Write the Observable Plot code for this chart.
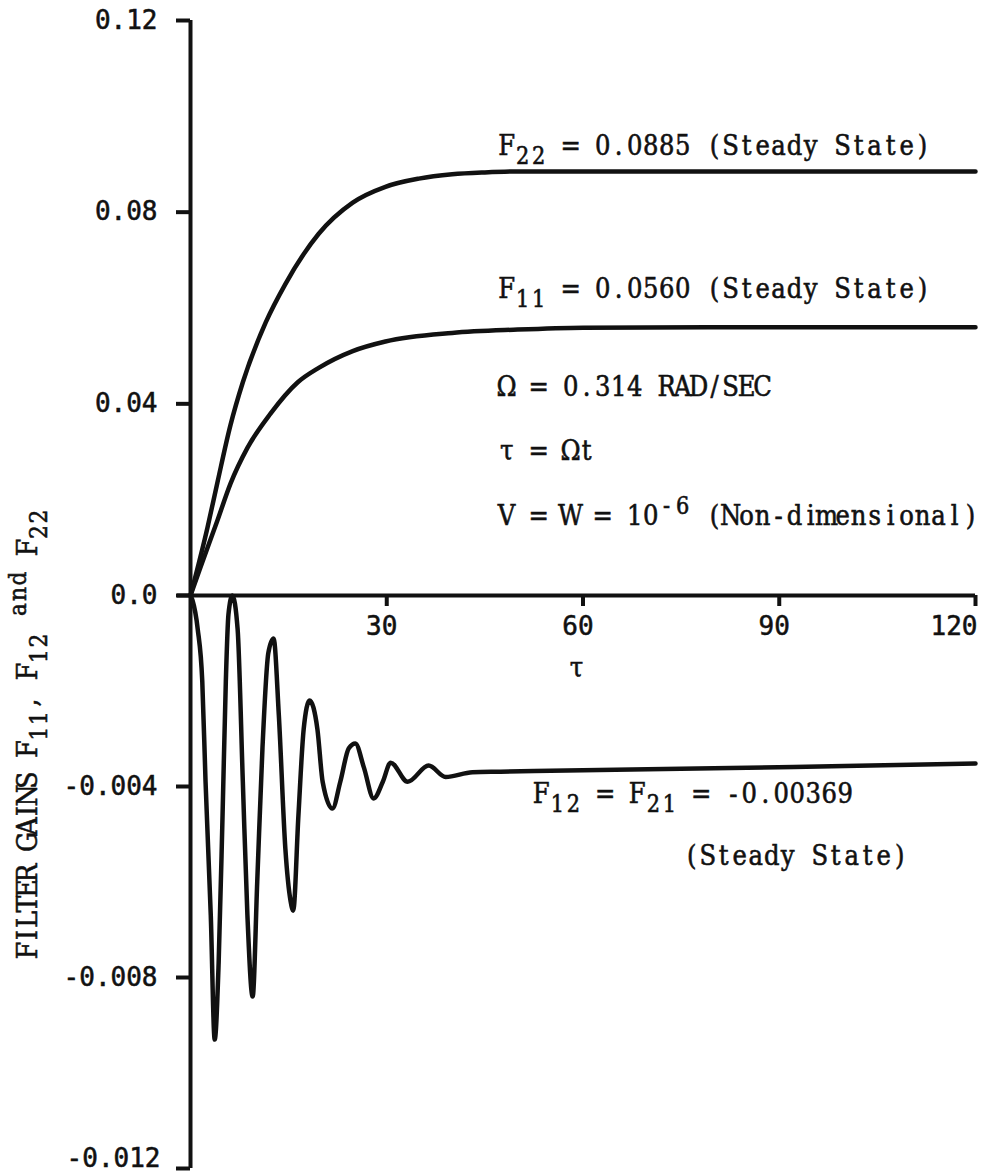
<!DOCTYPE html>
<html>
<head>
<meta charset="utf-8">
<script src="https://cdn.jsdelivr.net/npm/d3@7"></script>
<script src="https://cdn.jsdelivr.net/npm/@observablehq/plot@0.6"></script>
<style>
  html, body { margin: 0; padding: 0; background: #fff; }
  #chart svg { display: block; }
  #chart text { stroke: #111; stroke-width: 0.55px; white-space: pre; }
</style>
</head>
<body>
<div id="chart"></div>
<script>
// Non-dimensional time τ = Ωt and the filter gains.
const tau22 = [0, 2.6, 4.1, 6.1, 8.0, 11.5, 14.5, 19.6, 24.8, 29.8, 34.9, 40, 45, 50, 60, 80, 100, 120];
const f22   = [0, 0.0142, 0.0235, 0.0355, 0.0445, 0.057, 0.065, 0.0755, 0.082, 0.0853, 0.087, 0.0879, 0.0883, 0.0885, 0.0885, 0.0885, 0.0885, 0.0885];

const tau11 = [0, 1.5, 4.1, 6.1, 8.7, 12.2, 16.4, 19.6, 24.8, 29.8, 40, 50, 60, 80, 100, 120];
const f11   = [0, 0.0058, 0.0156, 0.0233, 0.0308, 0.0379, 0.0445, 0.0475, 0.051, 0.053, 0.0548, 0.0555, 0.0559, 0.056, 0.056, 0.056];

const tau12 = [0, 0.3, 1.1, 1.8, 2.3, 3.1, 3.7, 4.3, 4.9, 5.4, 5.8, 6.4, 7.2, 8.0, 8.7, 9.5,
               10.2, 11.0, 11.9, 12.7, 13.5, 14.5, 15.3, 15.7, 16.5, 17.3, 18.2, 19.4, 20.2, 21.7,
               22.9, 24.2, 25.2, 26.5, 28.0, 29.4, 30.6, 33.2, 36.4, 39.0, 43.1, 47.4, 60, 80, 100, 120];
const f12   = [0, -0.0001, -0.0007, -0.0018, -0.0039, -0.0067, -0.0093, -0.0077, -0.0046, -0.0018, -0.0004, 0, -0.0007, -0.0039, -0.0067, -0.0084,
               -0.006, -0.0032, -0.0012, -0.0009, -0.0025, -0.0053, -0.0064, -0.0066, -0.0046, -0.0028, -0.0022, -0.0028, -0.0039, -0.00446,
               -0.0039, -0.0032, -0.0031, -0.0036, -0.00425, -0.0039, -0.0035, -0.0039, -0.00356, -0.0038, -0.0037, -0.00369, -0.00366, -0.00362, -0.00357, -0.00352];

// Axis ticks and their printed labels
const xTicks = [30, 60, 90, 120];
const xTickLabels = ["30", "60", "90", "120"];
const yTicks = [0.12, 0.08, 0.04, 0, -0.004, -0.008, -0.012];
const yTickLabels = ["0.12", "0.08", "0.04", "0.0", "-0.004", "-0.008", "-0.012"];

// Steady-state values
const ss22 = 0.0885, ss11 = 0.0560, ss12 = -0.00369;

const series = (T, V) => T.map((t, i) => ({t, v: V[i]}));

const INK = "#111";
const serif = "DejaVu Serif Condensed, DejaVu Serif, serif";
const mono = "DejaVu Sans Mono, monospace";
const NOTE_SIZE = 27, TITLE_SIZE = 28;
// character pitch of the typed texts, by font size
const PITCH = {[NOTE_SIZE]: 16, [TITLE_SIZE]: 15.5};

const note = (text, options) => Plot.text([text], {
  textAnchor: "start", lineAnchor: "bottom", text: d => d,
  fontFamily: serif, fontSize: NOTE_SIZE, fill: INK, ...options
});

const chart = Plot.plot({
  width: 985,
  height: 1175,
  marginLeft: 190,
  marginRight: 10,
  marginTop: 20,
  marginBottom: 7,
  style: {background: "#fff", color: INK, fontFamily: serif},
  // The y scale is piecewise: the negative gains are drawn ten times larger.
  x: {type: "linear", domain: [0, 120], range: [190, 975], axis: null},
  y: {type: "linear", domain: [-0.012, 0, 0.12], range: [1168, 595, 20], axis: null},
  marks: [
    // y axis line and its ticks
    Plot.ruleX([0], {y1: -0.012, y2: 0.12, stroke: INK, strokeWidth: 4}),
    Plot.ruleY(yTicks, {x1: 0, x2: 0, insetLeft: -14, stroke: INK, strokeWidth: 4}),
    // x axis at zero and its ticks
    Plot.ruleY([0], {x1: 0, x2: 120, insetLeft: -13, stroke: INK, strokeWidth: 4}),
    Plot.ruleX(xTicks, {y1: 0, y2: 0, insetBottom: -11, stroke: INK, strokeWidth: 4}),

    // tick labels
    Plot.text(yTicks.slice(0, 6), {y: d => d, frameAnchor: "left", dx: -33, textAnchor: "end",
      text: (d, i) => yTickLabels[i], fontFamily: mono, fontSize: 26, fill: INK}),
    Plot.text(yTicks.slice(6), {y: d => d, frameAnchor: "left", dx: -30, dy: -10, textAnchor: "end",
      text: (d, i) => yTickLabels[6 + i], fontFamily: mono, fontSize: 26, fill: INK}),
    Plot.text(xTicks.slice(0, 3), {x: d => d, y: 0, dx: -5, dy: 31,
      text: (d, i) => xTickLabels[i], fontFamily: mono, fontSize: 26, fill: INK}),
    Plot.text(xTicks.slice(3), {x: d => d, y: 0, dx: 2, dy: 31, textAnchor: "end",
      text: (d, i) => xTickLabels[3 + i], fontFamily: mono, fontSize: 26, fill: INK}),

    // axis titles
    Plot.text(["τ"], {x: 59, y: 0, dy: 73, text: d => d, fontFamily: serif, fontSize: NOTE_SIZE, fill: INK}),
    Plot.text(["FILTER GAINS F_{11}, F_{12} ^{and} F_{22}"], {frameAnchor: "left", dx: -162, dy: 139, rotate: -90,
      textAnchor: "middle", text: d => d, fontFamily: serif, fontSize: TITLE_SIZE, fill: INK}),

    // gain histories
    Plot.line(series(tau22, f22), {x: "t", y: "v", curve: "monotone-x", stroke: INK, strokeWidth: 4.5}),
    Plot.line(series(tau11, f11), {x: "t", y: "v", curve: "monotone-x", stroke: INK, strokeWidth: 4.5}),
    Plot.line(series(tau12, f12), {x: "t", y: "v", curve: "monotone-x", stroke: INK, strokeWidth: 4.5}),

    // annotations
    note(`F_{22} = ${ss22.toFixed(4)} (Steady State)`, {x: 47.1, y: ss22, dy: -16}),
    note(`F_{11} = ${ss11.toFixed(4)} (Steady State)`, {x: 47.1, y: ss11, dy: -29}),
    note("Ω = 0.314 RAD/SEC", {x: 47.1, y: 0.0417}),
    note("τ = Ωt", {x: 47.1, y: 0.0283}),
    note("V = W = 10^{-6} (Non-dimensional)", {x: 47.1, y: 0.01466}),
    note(`F_{12} = F_{21} = ${ss12.toFixed(5)}`, {x: 52.4, y: ss12, dy: 31}),
    note("(Steady State)", {x: 75.4, y: -0.005654})
  ]
});

document.getElementById("chart").appendChild(chart);

// Typewriter setting for the serif texts: every character sits in a cell of
// equal pitch, and _{..} / ^{..} become lowered / raised runs.
function typeset(svg) {
  const NS = "http://www.w3.org/2000/svg";
  const XML = "http://www.w3.org/XML/1998/namespace";
  svg.querySelectorAll("text").forEach(el => {
    const cs = getComputedStyle(el);
    if (!/Serif/.test(cs.fontFamily)) return;
    const size = parseFloat(cs.fontSize) || NOTE_SIZE;
    const pitch = PITCH[size] || 0.6 * size;
    const anchor = cs.textAnchor;
    const s = el.textContent;
    const segs = [];
    const re = /([_^])\{([^}]*)\}/g;
    let last = 0, m;
    while ((m = re.exec(s))) {
      if (m.index > last) segs.push({txt: s.slice(last, m.index), kind: null});
      segs.push({txt: m[2], kind: m[1]});
      last = re.lastIndex;
    }
    if (last < s.length) segs.push({txt: s.slice(last), kind: null});
    const n = segs.reduce((a, g) => a + g.txt.length, 0);
    const x0 = (parseFloat(el.getAttribute("x")) || 0)
      + (anchor === "middle" ? -n * pitch / 2 : anchor === "end" ? -n * pitch : 0);
    while (el.firstChild) el.removeChild(el.firstChild);
    el.setAttribute("text-anchor", "middle");
    el.setAttributeNS(XML, "xml:space", "preserve");
    let k = 0, shift = 0;
    for (const g of segs) {
      const t = document.createElementNS(NS, "tspan");
      t.textContent = g.txt;
      const xs = Array.from(g.txt, (c, j) => (x0 + (k + j + 0.5) * pitch).toFixed(2));
      t.setAttribute("x", xs.join(" "));
      const target = g.kind === "_" ? size * 0.33 : g.kind === "^" ? -size * 0.42 : 0;
      if (target !== shift) t.setAttribute("dy", (target - shift).toFixed(2));
      shift = target;
      if (g.kind) t.setAttribute("font-size", (size * 0.86).toFixed(2));
      el.appendChild(t);
      k += g.txt.length;
    }
  });
}
typeset(chart);
</script>
</body>
</html>
